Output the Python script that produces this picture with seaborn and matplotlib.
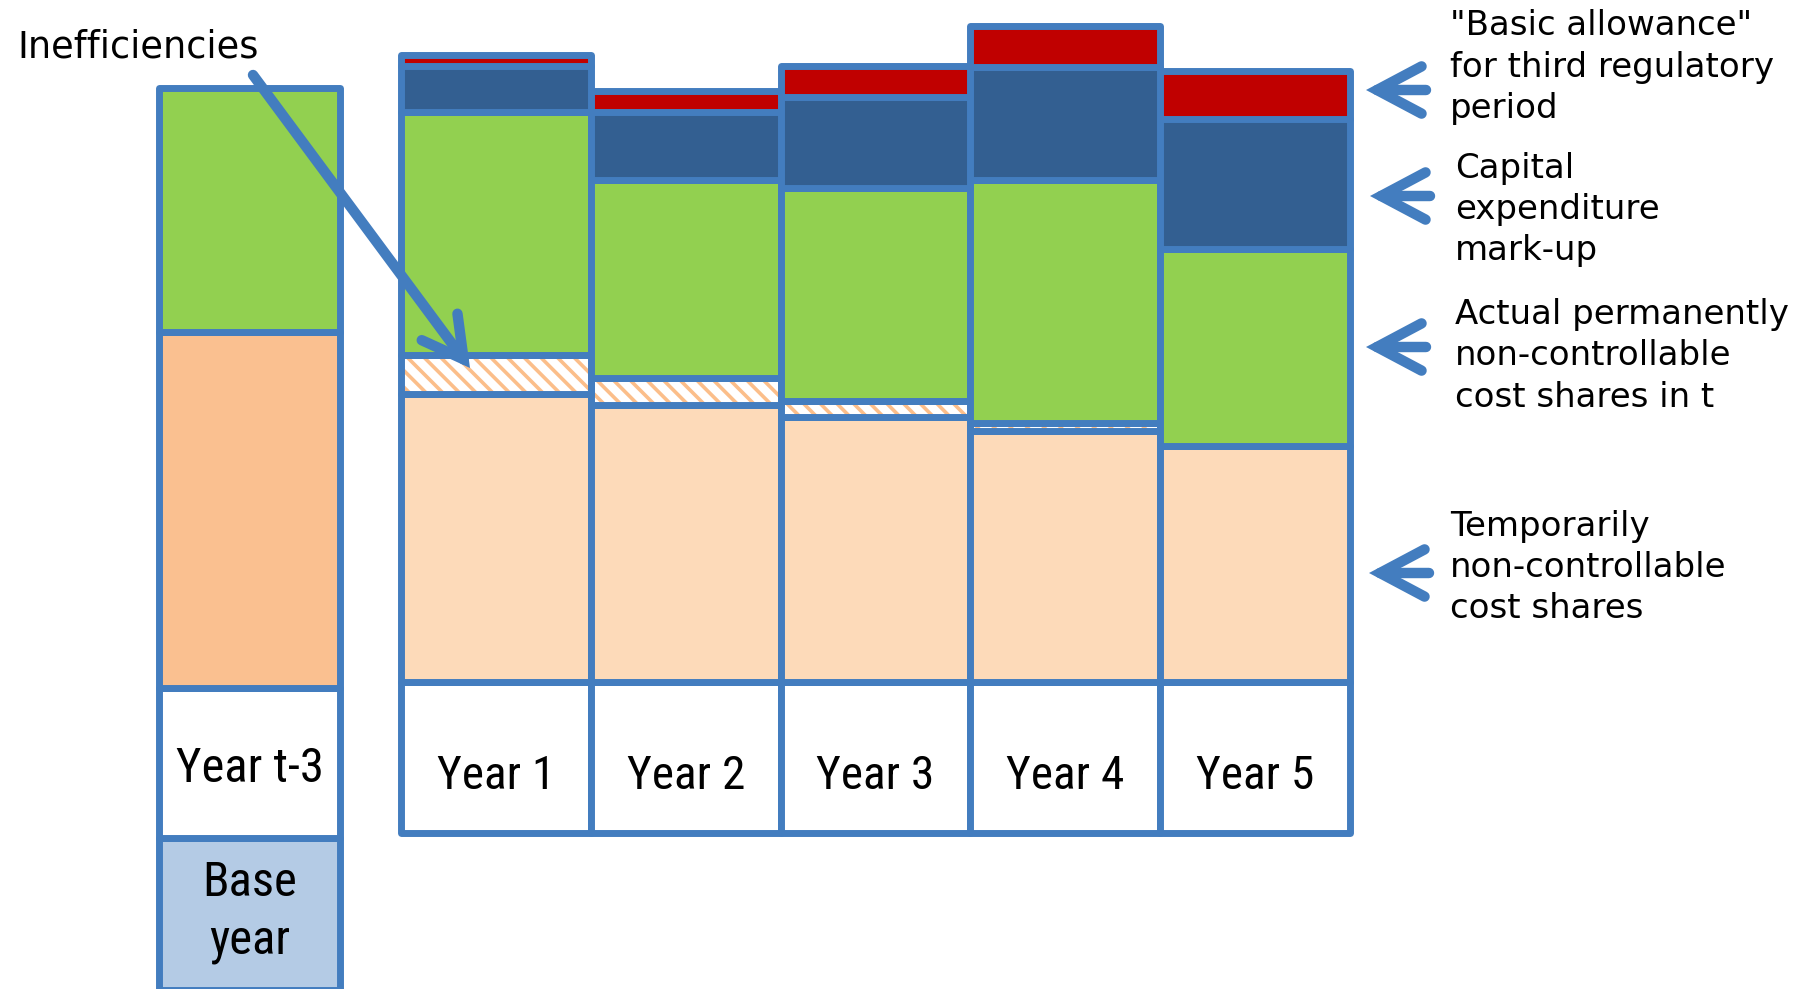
import matplotlib
matplotlib.use("Agg")
import matplotlib.pyplot as plt
from matplotlib import font_manager
import numpy as np
import seaborn as sns

# ---------------- data ----------------
years = ["Year 1", "Year 2", "Year 3", "Year 4", "Year 5"]
temporary = [288, 277, 265, 251, 236]          # temporarily non-controllable cost shares
inefficiency = [39, 27, 16, 8, 0]              # inefficiencies (hatched)
permanent = [243, 198, 213, 243, 197]          # actual permanently non-controllable cost shares
capex_markup = [46, 68, 91, 113, 130]          # capital expenditure mark-up
basic_allowance = [11, 21, 31, 41, 48]         # "basic allowance"

base_labels = ["Year t-3", "Base\nyear"]
base_temporary = [356]
base_permanent = [244]

side_labels = [
    ['"Basic allowance"', "for third regulatory", "period"],
    ["Capital", "expenditure", "mark-up"],
    ["Actual permanently", "non-controllable", "cost shares in t"],
    ["Temporarily", "non-controllable", "cost shares"],
]
annotation_label = "Inefficiencies"

# ---------------- style ----------------
BORDER = "#437DBF"
RED = "#C00000"
DARKBLUE = "#335F91"
GREEN = "#92D050"
PEACH = "#FDDAB9"
ORANGE = "#FAC090"
HATCH = "#FBBE8A"
CELLBLUE = "#B4CBE5"
LW = 5.0

sns.set_theme(style="white")
plt.rcParams["hatch.linewidth"] = 2.6
plt.rcParams["font.family"] = ["DejaVu Sans"]

# pick an installed condensed/narrow face for the cell labels
installed = {f.name for f in font_manager.fontManager.ttflist}
narrow_candidates = ["Liberation Sans Narrow", "Arial Narrow", "DejaVu Sans Condensed",
                     "Roboto Condensed", "Noto Sans Condensed", "Open Sans Condensed",
                     "Noto Sans ExtraCondensed"]
narrow_family = next((f for f in narrow_candidates if f in installed), None)
cond_files = [f for f in font_manager.fontManager.ttflist
              if f.stretch in ("condensed", "semi-condensed", "extra-condensed")
              and f.weight in (400, "normal", "regular")]
if narrow_family is not None:
    narrow = dict(family=[narrow_family, "DejaVu Sans"])
    narrow_scale = 1.0
elif cond_files:
    narrow = dict(fname=cond_files[0].fname)
    narrow_scale = 1.0
else:
    narrow = dict(family=["DejaVu Sans"])
    narrow_scale = 0.8

W, H = 1814, 989
fig = plt.figure(figsize=(W / 100, H / 100), dpi=100)
ax = fig.add_axes([0, 0, 1, 1])

UNIT = 189.75          # pixels per bar slot
X0 = 496               # pixel centre of first year bar
BASE_Y = 682           # pixel row of baseline
CELL = 151             # label cell height


def bars(x, heights, bottoms, width, color, **kw):
    sns.barplot(x=list(x), y=list(heights), native_scale=True, orient="x",
                width=width, errorbar=None, saturation=1, color=color,
                ax=ax, bottom=list(bottoms), **kw)


edge = dict(edgecolor=BORDER, linewidth=LW, joinstyle="round")
pos = np.arange(len(years))
n = len(years)

# year label cells
bars(pos, [CELL] * n, [-CELL] * n, 1.0, "white", **edge)
# stacked segments
b = np.zeros(n)
bars(pos, temporary, b, 1.0, PEACH, **edge)
b = b + np.array(temporary)
bars(pos, inefficiency, b, 1.0, "white", edgecolor=HATCH, linewidth=0, hatch="\\\\")
bars(pos, inefficiency, b, 1.0, BORDER, fill=False, linewidth=LW, joinstyle="round")
b = b + np.array(inefficiency)
bars(pos, permanent, b, 1.0, GREEN, **edge)
b = b + np.array(permanent)
bars(pos, capex_markup, b, 1.0, DARKBLUE, **edge)
b = b + np.array(capex_markup)
bars(pos, basic_allowance, b, 1.0, RED, **edge)

# base bar
bx = [-1.299]
bw = 0.954
bars(bx, [152], [-308], bw, CELLBLUE, **edge)
bars(bx, [150], [-156], bw, "white", **edge)
bars(bx, base_temporary, [-6], bw, ORANGE, **edge)
bars(bx, base_permanent, [-6 + base_temporary[0]], bw, GREEN, **edge)

ax.set_xlim(-X0 / UNIT, (W - X0) / UNIT)
ax.set_ylim(BASE_Y - H, BASE_Y)
ax.set_axis_off()

# ---------------- texts ----------------


def px(x, y):
    return x / W, (H - y) / H


for i, lab in enumerate(years):
    cx = X0 + i * UNIT
    fig.text(*px(cx, 789), lab, ha="center", va="baseline",
             fontsize=34 * narrow_scale, color="black", **narrow)

bcx = X0 + bx[0] * UNIT
fig.text(*px(bcx, 782), base_labels[0], ha="center", va="baseline",
         fontsize=35 * narrow_scale, color="black", **narrow)
for line, yb in zip(base_labels[1].split("\n"), [896, 953]):
    fig.text(*px(bcx, yb), line, ha="center", va="baseline",
             fontsize=35 * narrow_scale, color="black", **narrow)

block_x = [1450, 1455, 1455, 1450]
block_base = [[35, 77, 118], [178, 219, 260], [324, 365, 407], [536, 577, 618]]
for lines, xx, ys in zip(side_labels, block_x, block_base):
    for line, yy in zip(lines, ys):
        fig.text(*px(xx, yy), line, ha="left", va="baseline", fontsize=24.5,
                 color="black")

fig.text(*px(17, 57), annotation_label, ha="left", va="baseline", fontsize=26.5,
         color="black")

# ---------------- arrows ----------------
arrow_style = "->,head_length=3.2,head_width=1.7"
for (tx, ty), (ex, ey) in [((1366, 90), (1426, 90)), ((1370, 196), (1430, 196)),
                           ((1366, 347), (1426, 347)), ((1369, 573), (1429, 573))]:
    ax.annotate("", xy=(tx, H - ty), xycoords="figure pixels",
                xytext=(ex, H - ey), textcoords="figure pixels",
                arrowprops=dict(arrowstyle=arrow_style, color=BORDER, lw=7.5,
                                shrinkA=0, shrinkB=0, mutation_scale=10,
                                capstyle="round", joinstyle="miter"),
                zorder=10)

ax.annotate("", xy=(470, H - 368), xycoords="figure pixels",
            xytext=(253, H - 75), textcoords="figure pixels",
            arrowprops=dict(arrowstyle="->,head_length=2.9,head_width=1.6",
                            color=BORDER, lw=7.5, shrinkA=0, shrinkB=0,
                            mutation_scale=10, capstyle="round", joinstyle="miter"),
            zorder=10)

fig.savefig("out.png", dpi=100)
